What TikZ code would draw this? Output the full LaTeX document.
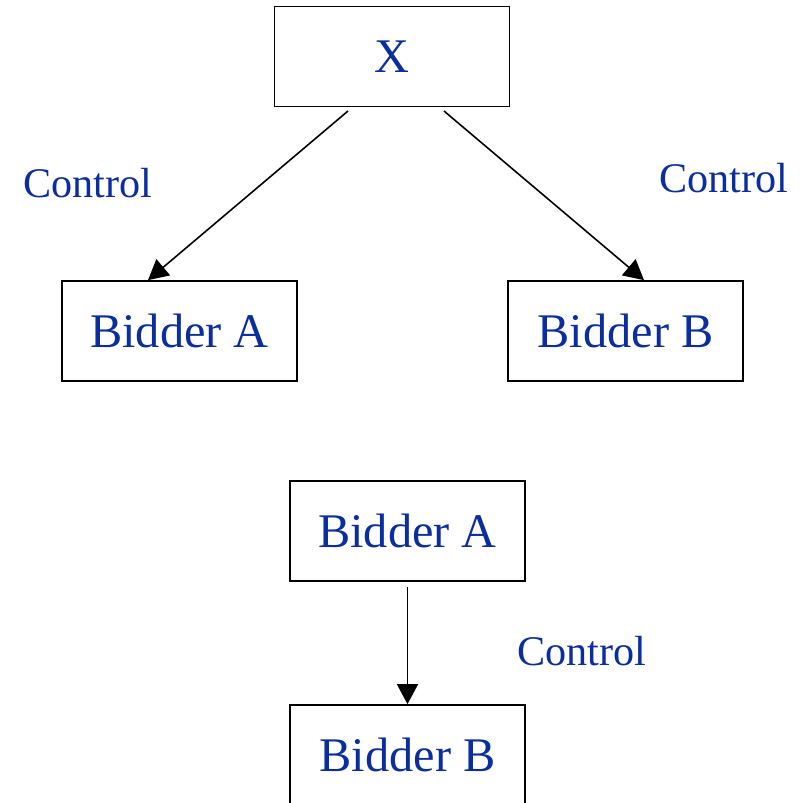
\documentclass[tikz,border=0pt]{standalone}
\usepackage{fontspec}
\setmainfont{Liberation Serif}
\usetikzlibrary{arrows.meta}
\definecolor{inkblue}{HTML}{0A2DA0}
\tikzset{
  px/.style={x=0.02cm,y=-0.02cm},
  box/.style={draw=black,line width=1pt,minimum width=4.7cm,minimum height=2cm,
    inner sep=0pt,text=inkblue,font=\fontsize{27.5}{30}\selectfont},
  lbl/.style={text=inkblue,font=\fontsize{24}{27}\selectfont,inner sep=0pt},
  link/.style={line width=0.9pt,-{Triangle[length=0.4cm,width=0.42cm]}}
}
\begin{document}
\begin{tikzpicture}[px]
  \useasboundingbox (0,0) rectangle (804,802);
  \clip (0,0) rectangle (804,802);
  % upper tree
  \node[box] (x) at (392,56.5) {\raisebox{-3pt}{X}};
  \node[box] (a1) at (179.5,331) {Bidder A};
  \node[box] (b1) at (625.5,331) {Bidder B};
  \coordinate (xl) at (348,111);
  \coordinate (xr) at (444,111);
  \draw[link] (xl) -- (a1.north -| 148,0);
  \draw[link] (xr) -- (b1.north -| 644,0);
  \node[lbl] (c1) at (88,183) {Control};
  \node[lbl] (c2) at (724,178) {Control};
  % lower chain
  \node[box] (a2) at (407.5,531) {Bidder A};
  \node[box] (b2) at (407.5,755) {Bidder B};
  \coordinate (as) at (407.5,587);
  \draw[link] (as) -- (b2.north);
  \node[lbl] (c3) at (582,651) {Control};
\end{tikzpicture}
\end{document}
